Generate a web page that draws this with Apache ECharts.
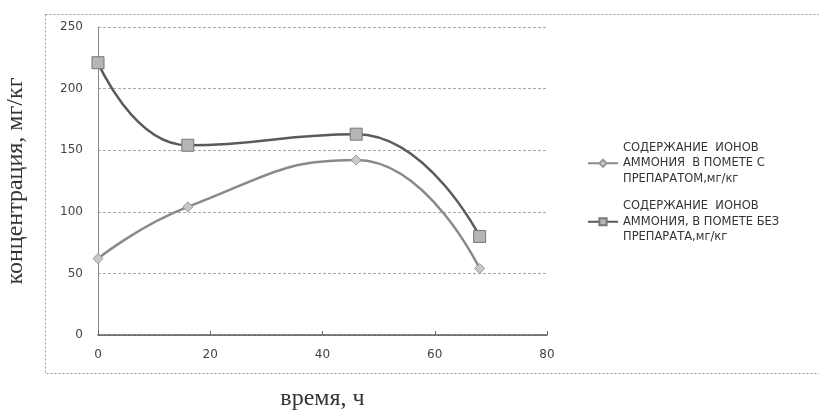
<!DOCTYPE html>
<html>
<head>
<meta charset="utf-8">
<script src="https://cdn.jsdelivr.net/npm/echarts@6/dist/echarts.min.js"></script>
<style>html,body{margin:0;padding:0;background:#fff}#c{width:819px;height:411px}</style>
</head>
<body>
<div id="c"></div>
<script>
const timeHours = [0, 16, 46, 68];
const withPrep = [62, 104, 142, 54];
const withoutPrep = [221, 154, 163, 80];
const seriesNames = [
  'СОДЕРЖАНИЕ  ИОНОВ\nАММОНИЯ  В ПОМЕТЕ С\nПРЕПАРАТОМ,мг/кг',
  'СОДЕРЖАНИЕ  ИОНОВ\nАММОНИЯ, В ПОМЕТЕ БЕЗ\nПРЕПАРАТА,мг/кг'
];
const xTitle = 'время, ч';
const yTitle = 'концентрация, мг/кг';

const pair = (xs, ys) => xs.map((x, i) => [x, ys[i]]);
const chart = echarts.init(document.getElementById('c'), null, {renderer: 'canvas'});
const lab = {fontFamily: 'DejaVu Sans', fontSize: 12, color: '#444'};
chart.setOption({
  animation: false,
  backgroundColor: '#fff',
  graphic: [{
    type: 'rect', left: 43, top: 12, shape: {width: 790, height: 359},
    style: {fill: 'none', stroke: '#999', lineWidth: 1, lineDash: [2, 2]}, z: -1
  }],
  grid: {left: 98, right: 272, top: 27, bottom: 76, outerBoundsMode: 'none', containLabel: false},
  xAxis: {
    type: 'value', min: 0, max: 80, interval: 20,
    name: xTitle, nameLocation: 'middle', nameGap: 52,
    nameTextStyle: {fontFamily: 'Liberation Serif', fontSize: 24, color: '#333'},
    axisLine: {show: true, lineStyle: {color: '#555', width: 1.5, type: [2, 1]}},
    axisTick: {show: true, inside: true, length: 4, lineStyle: {color: '#666'}},
    axisLabel: Object.assign({margin: 14}, lab),
    splitLine: {show: false}
  },
  yAxis: {
    type: 'value', min: 0, max: 250, interval: 50,
    name: yTitle, nameLocation: 'middle', nameGap: 70,
    nameTextStyle: {fontFamily: 'Liberation Serif', fontSize: 24, color: '#333'},
    axisLine: {show: true, lineStyle: {color: '#888', width: 1}},
    axisTick: {show: false},
    axisLabel: Object.assign({margin: 15}, lab),
    splitLine: {show: true, lineStyle: {color: '#aaa', width: 1, type: [3, 2]}}
  },
  legend: {
    orient: 'vertical', left: 582, top: 135, itemGap: 12,
    itemWidth: 30, itemHeight: 9,
    textStyle: {fontFamily: 'DejaVu Sans', fontSize: 11.5, color: '#333', lineHeight: 15.5},
    data: seriesNames
  },
  series: [{
    name: seriesNames[0], type: 'line', smooth: 0.5,
    data: pair(timeHours, withPrep),
    symbol: 'diamond', symbolSize: 10,
    lineStyle: {color: '#8a8a8a', width: 2.5},
    itemStyle: {color: '#c8c8c8', borderColor: '#999', borderWidth: 1}
  }, {
    name: seriesNames[1], type: 'line', smooth: 0.5,
    data: pair(timeHours, withoutPrep),
    symbol: 'rect', symbolSize: 12,
    lineStyle: {color: '#5a5a5a', width: 2.5},
    itemStyle: {color: '#b5b5b5', borderColor: '#777', borderWidth: 1}
  }]
});
</script>
</body>
</html>
